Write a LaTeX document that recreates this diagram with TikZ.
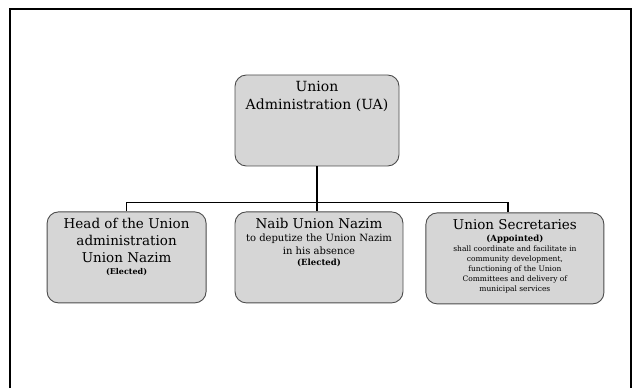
\documentclass[tikz,border=0pt]{standalone}
\usepackage{fontspec}
\setmainfont{DejaVu Serif}
\usepackage{xcolor}
\usepackage{tikz}
\usetikzlibrary{positioning, calc}

\newcommand{\boxtext}[2]{\parbox[c][78pt][t]{#1}{\centering #2}}

\begin{document}
\begin{tikzpicture}[x=1pt, y=1pt,
      unit/.style={rectangle, rounded corners=4mm, draw=black!70, line width=0.9pt,
        fill=black!16, inner xsep=4pt, inner ysep=6.5pt, align=center},
      wire/.style={line width=1.3pt, draw=black}
    ]
      \useasboundingbox (0,0) rectangle (636,388);
      % open frame round the chart
      \draw[line width=1.6pt] (10,0) -- (10,379) -- (631,379) -- (631,0);

      \node[unit] (ua) at (317,267.5) {\boxtext{156pt}{%
        \fontsize{14}{18}\selectfont Union\\Administration (UA)\par}};
      \node[unit, below=45pt of ua, xshift=2pt] (naib) {\boxtext{160pt}{%
        \fontsize{13.5}{17}\selectfont Naib Union Nazim\par
        \fontsize{10}{13}\selectfont to deputize the Union Nazim\\in his absence\par
        \fontsize{8.5}{11}\selectfont\bfseries (Elected)\par}};
      \node[unit, left=28pt of naib] (head) {\boxtext{151pt}{%
        \fontsize{13.5}{17}\selectfont Head of the Union\\administration\\Union Nazim\par
        \fontsize{8}{12}\selectfont\bfseries (Elected)\par}};
      \node[unit, right=22pt of naib, yshift=-1pt] (secr) {\boxtext{170pt}{%
        \fontsize{13.5}{17}\selectfont Union Secretaries\par
        \fontsize{8.5}{12}\selectfont\bfseries (Appointed)\par
        \fontsize{7.5}{10}\selectfont\mdseries shall coordinate and facilitate in\\
        community development,\\functioning of the Union\\
        Committees and delivery of\\municipal services\par}};

      \coordinate (bus) at ($(ua.south)!0.8!(ua.south |- naib.north)$);
      \draw[wire] (ua.south) -- (ua.south |- naib.north);
      \draw[wire] (head.north) |- (bus) -| ([xshift=-7pt]secr.north);
    \end{tikzpicture}
\end{document}
